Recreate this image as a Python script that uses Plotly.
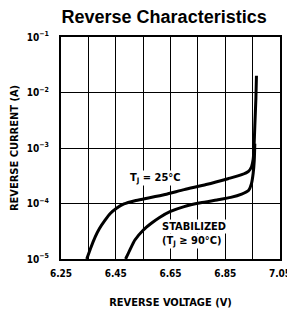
import math
import plotly.graph_objects as go

# Data (reverse voltage in V, reverse current in A)
v_25c = [6.344, 6.36, 6.375, 6.39, 6.411, 6.43, 6.454, 6.48, 6.52, 6.56, 6.63, 6.70,
         6.78, 6.86, 6.91, 6.935, 6.946, 6.952, 6.955, 6.958, 6.962, 6.964]
i_25c = [1.0e-5, 1.65e-5, 2.5e-5, 3.5e-5, 5.0e-5, 6.6e-5, 8.3e-5, 9.8e-5, 1.12e-4, 1.23e-4,
         1.45e-4, 1.78e-4, 2.2e-4, 2.8e-4, 3.3e-4, 3.8e-4, 4.6e-4, 6.3e-4, 1.0e-3, 2.5e-3,
         8.0e-3, 2.0e-2]

v_stab = [6.486, 6.50, 6.52, 6.55, 6.58, 6.61, 6.65, 6.70, 6.76, 6.82, 6.87, 6.91,
          6.935, 6.946, 6.952, 6.956, 6.958]
i_stab = [1.0e-5, 1.4e-5, 2.2e-5, 3.3e-5, 4.4e-5, 5.6e-5, 7.2e-5, 8.8e-5, 1.03e-4, 1.16e-4,
          1.29e-4, 1.48e-4, 1.72e-4, 2.3e-4, 3.5e-4, 6.0e-4, 1.2e-3]

x_tickvals = [6.25, 6.35, 6.45, 6.55, 6.65, 6.75, 6.85, 6.95, 7.05]
x_ticktext = ["6.25", "", "6.45", "", "6.65", "", "6.85", "", "7.05"]
y_tickvals = [1e-5, 1e-4, 1e-3, 1e-2, 1e-1]
y_ticktext = ["10<sup>−5</sup>", "10<sup>−4</sup>", "10<sup>−3</sup>", "10<sup>−2</sup>", "10<sup>−1</sup>"]

FONT = "DejaVu Sans Condensed, Liberation Sans Narrow, Arial Narrow, Arial"

fig = go.Figure()
fig.add_trace(go.Scatter(x=v_25c, y=i_25c, mode="lines",
                         line=dict(color="black", width=3, shape="spline", smoothing=0.6),
                         showlegend=False, hoverinfo="skip"))
fig.add_trace(go.Scatter(x=v_stab, y=i_stab, mode="lines",
                         line=dict(color="black", width=3, shape="spline", smoothing=0.6),
                         showlegend=False, hoverinfo="skip"))

# page body has an 8px default margin, so the figure is sized 8px smaller
fig.update_layout(
    width=287, height=301,
    margin=dict(l=53, r=15, t=29, b=50, autoexpand=False),
    paper_bgcolor="white", plot_bgcolor="white",
    font=dict(family=FONT, color="black", size=10),
    title=dict(text="<b>Reverse Characteristics</b>", x=0.544, xanchor="center",
               y=0.97, yanchor="middle",
               font=dict(family="Liberation Sans, Arial", size=18, color="black")),
    xaxis=dict(range=[6.25, 7.05], tickvals=x_tickvals, ticktext=x_ticktext,
               showgrid=True, gridcolor="black", gridwidth=1, automargin=False,
               showline=True, linecolor="black", linewidth=2, mirror=True,
               ticks="", zeroline=False, ticklabelstandoff=4,
               tickfont=dict(family=FONT, size=10, weight="bold"),
               title=dict(text="<b>REVERSE VOLTAGE (V)</b>", standoff=20,
                          font=dict(family=FONT, size=11))),
    yaxis=dict(type="log", range=[-5, -1], tickvals=y_tickvals, ticktext=y_ticktext,
               showgrid=True, gridcolor="black", gridwidth=1, automargin=False,
               showline=True, linecolor="black", linewidth=2, mirror=True,
               ticks="", zeroline=False, ticklabelstandoff=8,
               tickfont=dict(family=FONT, size=10, weight="bold"),
               title=dict(text="<b>REVERSE CURRENT (A)</b>", standoff=12,
                          font=dict(family=FONT, size=11))),
)

fig.add_annotation(x=6.594, y=math.log10(2.9e-4), xref="x", yref="y", showarrow=False,
                   text="<b>T<sub>J</sub> = 25°C</b>", font=dict(family=FONT, size=11),
                   bgcolor="white", borderpad=0)
fig.add_annotation(x=6.735, y=math.log10(3.9e-5), xref="x", yref="y", showarrow=False,
                   text="<b>STABILIZED</b>", font=dict(family=FONT, size=11),
                   bgcolor="white", borderpad=0)
fig.add_annotation(x=6.728, y=math.log10(2.1e-5), xref="x", yref="y", showarrow=False,
                   text="<b>(T<sub>J</sub> ≥ 90°C)</b>", font=dict(family=FONT, size=11),
                   bgcolor="white", borderpad=0)

fig.write_html("out.html")
